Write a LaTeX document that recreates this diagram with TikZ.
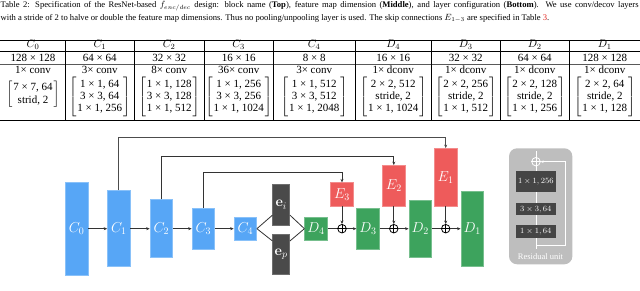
\documentclass[tikz,border=0pt]{standalone}
\usepackage[no-math]{fontspec}
\setmainfont{Liberation Serif}
\usepackage{amsmath}
\usetikzlibrary{arrows.meta}
\definecolor{cblue}{HTML}{57A6F6}
\definecolor{cgreen}{HTML}{3DA35D}
\definecolor{cred}{HTML}{EE5B5B}
\definecolor{cdark}{HTML}{4A4A4A}
\definecolor{cres}{HTML}{BEBEBE}
\definecolor{cinner}{HTML}{454545}
\definecolor{cline}{HTML}{333333}
\definecolor{linkred}{HTML}{E0201B}
\newcommand\tabf{\fontsize{11}{12.4}\selectfont}
\newcommand\brk[1]{$\left[\begin{tabular}{@{\hspace{1pt}}c@{\hspace{1pt}}}#1\end{tabular}\right]$}
\begin{document}
\begin{tikzpicture}[x=1pt,y=-1pt,
  blk/.style={draw=white!30!#1, fill=#1, line width=0.5pt, minimum width=22.7, inner sep=0, text=white, font=\fontsize{14}{16}\selectfont},
  ebox/.style={draw=cdark!80!white, fill=cdark, line width=0.5pt, minimum width=17, minimum height=40.2, inner sep=0, text=white, font=\fontsize{14}{16}\selectfont},
  conn/.style={draw=cline, line width=0.8pt},
  arr/.style={conn, -{Stealth[length=3.5pt,width=3pt]}},
  skip/.style={draw=cline, line width=0.9pt, -{Stealth[length=3.5pt,width=3pt]}},
  plusc/.style={circle, draw=black, line width=0.8pt, minimum size=8.5, inner sep=0},
  cell/.style={anchor=base, inner sep=0, font=\tabf},
  bcell/.style={anchor=center, inner sep=0, font=\tabf},
  rule/.style={draw=black, line width=0.6pt},
  wline/.style={draw=white, line width=0.8pt},
  ibox/.style={fill=cinner, minimum width=39.7, inner sep=0, text=white, font=\fontsize{8.5}{10}\selectfont},
]
\useasboundingbox (0,0) rectangle (640,291);

% ---------- caption ----------
\node[anchor=base west, inner sep=0, font=\fontsize{8.6}{13}\selectfont] (cap1) at (0.5,8) {\makebox[638pt][s]{Table 2: Specification of the ResNet-based $f_{enc/dec}$ design: block name (\textbf{Top}), feature map dimension (\textbf{Middle}), and layer configuration (\textbf{Bottom}). We use conv/decov layers}};
\node[anchor=base west, inner sep=0, font=\fontsize{8.6}{13}\selectfont] (cap2) at (0.5,21) {with a stride of 2 to halve or double the feature map dimensions. Thus no pooling/unpooling layer is used. The skip connections $E_{1-3}$ are specified in Table \textcolor{linkred}{3}.};

% ---------- table ----------
\coordinate (tl) at (0,40.3);
\coordinate (tr) at (640,40.3);
\coordinate (hl) at (0,51.7);
\coordinate (hr) at (640,51.7);
\coordinate (ml) at (0,64.3);
\coordinate (mr) at (640,64.3);
\coordinate (bl) at (0,120.7);
\coordinate (br) at (640,120.7);
\draw[rule, line width=1.2pt] (tl) -- (tr);
\draw[rule] (hl) -- (hr);
\draw[rule, draw=black!65, line width=0.8pt] (ml) -- (mr);
\draw[rule, line width=1.2pt] (bl) -- (br);
\foreach \x [count=\i] in {65.3,134.4,204,273.4,355,431.5,500,569.5}{
  \coordinate (vt\i) at (\x,40.3);
  \coordinate (vb\i) at (\x,120.7);
  \draw[rule, line width=0.5pt] (vt\i) -- (vb\i);
}
% header
\node[cell] (h0) at (33,47.5) {$C_0$};
\node[cell] (h1) at (99.8,47.5) {$C_1$};
\node[cell] (h2) at (169.2,47.5) {$C_2$};
\node[cell] (h3) at (238.7,47.5) {$C_3$};
\node[cell] (h4) at (314.2,47.5) {$C_4$};
\node[cell] (h5) at (393.2,47.5) {$D_4$};
\node[cell] (h6) at (465.8,47.5) {$D_3$};
\node[cell] (h7) at (534.8,47.5) {$D_2$};
\node[cell] (h8) at (604.8,47.5) {$D_1$};
% dims
\node[cell] (d0) at (33,61.3) {128 × 128};
\node[cell] (d1) at (99.8,61.3) {64 × 64};
\node[cell] (d2) at (169.2,61.3) {32 × 32};
\node[cell] (d3) at (238.7,61.3) {16 × 16};
\node[cell] (d4) at (314.2,61.3) {8 × 8};
\node[cell] (d5) at (393.2,61.3) {16 × 16};
\node[cell] (d6) at (465.8,61.3) {32 × 32};
\node[cell] (d7) at (534.8,61.3) {64 × 64};
\node[cell] (d8) at (604.8,61.3) {128 × 128};
% conv
\node[cell] (v0) at (33,74) {1× conv};
\node[cell] (v1) at (99.8,74) {3× conv};
\node[cell] (v2) at (169.2,74) {8× conv};
\node[cell] (v3) at (238.7,74) {36× conv};
\node[cell] (v4) at (314.2,74) {3× conv};
\node[cell] (v5) at (393.2,74) {1× dconv};
\node[cell] (v6) at (465.8,74) {1× dconv};
\node[cell] (v7) at (534.8,74) {1× dconv};
\node[cell] (v8) at (604.8,74) {1× dconv};
% brackets
\node[bcell] (b0) at (33,94.5) {\brk{7 × 7, 64\\ strid, 2}};
\node[bcell] (b1) at (99.8,97) {\brk{1 × 1, 64\\ 3 × 3, 64\\ 1 × 1, 256}};
\node[bcell] (b2) at (169.2,97) {\brk{1 × 1, 128\\ 3 × 3, 128\\ 1 × 1, 512}};
\node[bcell] (b3) at (238.7,97) {\brk{1 × 1, 256\\ 3 × 3, 256\\ 1 × 1, 1024}};
\node[bcell] (b4) at (314.2,97) {\brk{1 × 1, 512\\ 3 × 3, 512\\ 1 × 1, 2048}};
\node[bcell] (b5) at (393.2,97) {\brk{2 × 2, 512\\ stride, 2\\ 1 × 1, 1024}};
\node[bcell] (b6) at (465.8,97) {\brk{2 × 2, 256\\ stride, 2\\ 1 × 1, 512}};
\node[bcell] (b7) at (534.8,97) {\brk{2 × 2, 128\\ stride, 2\\ 1 × 1, 256}};
\node[bcell] (b8) at (604.8,97) {\brk{2 × 2, 64\\ stride, 2\\ 1 × 1, 128}};

% ---------- network diagram ----------
\node[blk=cblue, minimum height=92.7] (c0) at (76.7,228.7) {$C_0$};
\node[blk=cblue, minimum height=76] (c1) at (118.8,228.7) {$C_1$};
\node[blk=cblue, minimum height=58] (c2) at (161.3,228.7) {$C_2$};
\node[blk=cblue, minimum height=40.4] (c3) at (203.3,228.7) {$C_3$};
\node[blk=cblue, minimum height=23.3] (c4) at (245.3,228.7) {$C_4$};
\node[ebox] (ei) at (281.2,204.8) {$\mathbf{e}_i$};
\node[ebox] (ep) at (281.2,254.3) {$\mathbf{e}_p$};
\node[blk=cgreen, minimum height=23.3] (d4n) at (316,228.7) {$D_4$};
\node[blk=cred, minimum height=23.3] (e3) at (342,194.3) {$E_3$};
\node[blk=cgreen, minimum height=40.4] (d3n) at (368,228.7) {$D_3$};
\node[blk=cred, minimum height=40.7] (e2) at (393.8,185.7) {$E_2$};
\node[blk=cgreen, minimum height=57.7] (d2n) at (420.2,228.7) {$D_2$};
\node[blk=cred, minimum height=57.7] (e1) at (445.7,177.2) {$E_1$};
\node[blk=cgreen, minimum height=75.6] (d1n) at (472.2,228.7) {$D_1$};

\node[plusc] (p3) at (342,228.7) {};
\node[plusc] (p2) at (393.8,228.7) {};
\node[plusc] (p1) at (445.7,228.7) {};
\foreach \p in {p1,p2,p3}{
  \draw[line width=0.8pt] (\p.north) -- (\p.south) (\p.west) -- (\p.east);
}

\draw[arr] (c0.east) -- (c1.west);
\draw[arr] (c1.east) -- (c2.west);
\draw[arr] (c2.east) -- (c3.west);
\draw[arr] (c3.east) -- (c4.west);
\draw[conn] (c4.east) -- ([yshift=10pt]ei.south west);
\draw[conn] (c4.east) -- ([yshift=-7pt]ep.north west);
\draw[conn] ([yshift=10pt]ei.south east) -- (d4n.west);
\draw[conn] ([yshift=-7pt]ep.north east) -- (d4n.west);
\draw[conn] (d4n.east) -- (p3.west);
\draw[arr] (p3.east) -- (d3n.west);
\draw[conn] (d3n.east) -- (p2.west);
\draw[arr] (p2.east) -- (d2n.west);
\draw[conn] (d2n.east) -- (p1.west);
\draw[arr] (p1.east) -- (d1n.west);
\draw[arr] (e3.south) -- (p3.north);
\draw[arr] (e2.south) -- (p2.north);
\draw[arr] (e1.south) -- (p1.north);

\coordinate (k1) at (0,137.7);
\coordinate (k2) at (0,156);
\coordinate (k3) at (0,172.7);
\draw[skip, draw=black!70, line width=1.1pt] (c1.north) |- (e1.north |- k1) -- (e1.north);
\draw[skip] (c2.north) |- (e2.north |- k2) -- (e2.north);
\draw[skip] (c3.north) |- (e3.north |- k3) -- (e3.north);

% ---------- residual unit ----------
\node[draw=none, fill=cres, rounded corners=8pt, minimum width=63.3, minimum height=116, inner sep=0] (res) at (540.7,206.3) {};
\node[circle, draw=white, line width=0.8pt, minimum size=8.5, inner sep=0] (ro) at (536,161.7) {};
\draw[wline] (ro.north) -- (ro.south) (ro.west) -- (ro.east);
\coordinate (r0) at (536,249);
\coordinate (rb) at (536,245);
\coordinate (rc) at (565,245);
\coordinate (rt) at (536,151.5);
\draw[wline] (r0) -- (ro.south);
\draw[wline] (ro.north) -- (rt);
\draw[wline, -{Stealth[length=3pt,width=2.6pt]}] (rb) -- (rc) |- (ro.east);
\node[ibox, minimum height=21.3] (r3) at (535.8,181.7) {$1\times1,256$};
\node[ibox, minimum height=12] (r2) at (535.8,209.3) {$3\times3,64$};
\node[ibox, minimum height=12.4] (r1) at (535.8,231.5) {$1\times1,64$};
\node[inner sep=0, text=white, font=\fontsize{8.5}{10}\selectfont] (rl) at (540.5,257) {Residual unit};
\end{tikzpicture}
\end{document}
